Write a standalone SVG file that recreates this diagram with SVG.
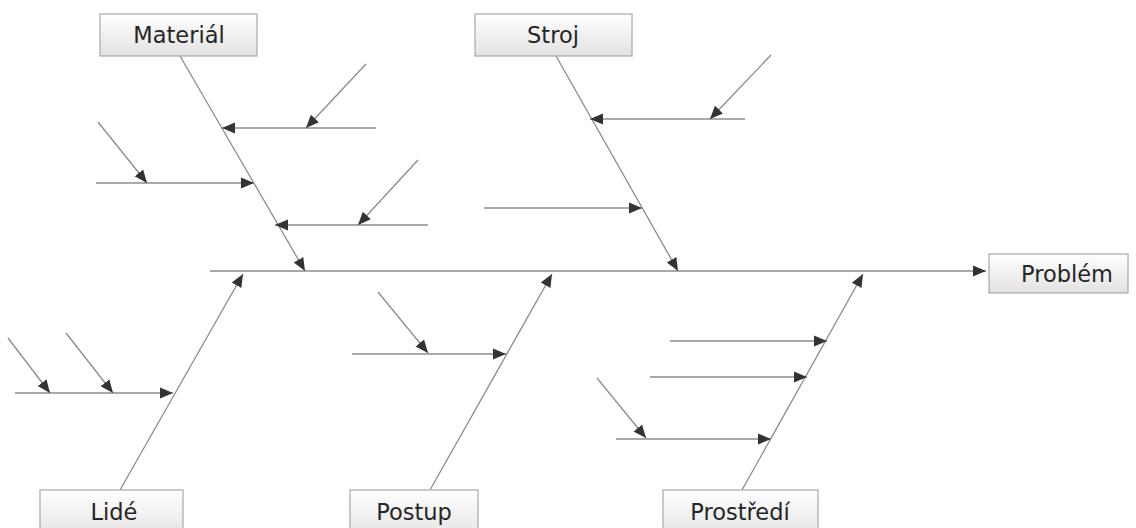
<svg xmlns="http://www.w3.org/2000/svg" width="1136" height="528" viewBox="0 0 1136 528">
<defs>
<linearGradient id="g" x1="0" y1="0" x2="0" y2="1">
<stop offset="0" stop-color="#ffffff"/>
<stop offset="1" stop-color="#e2e2e2"/>
</linearGradient>
<marker id="a" markerUnits="userSpaceOnUse" markerWidth="15" markerHeight="13" refX="13" refY="6.5" orient="auto">
<path d="M0,1 L13,6.5 L0,12 Z" fill="#333333"/>
</marker>
<style>
.box{fill:url(#g);stroke:#a8a8a8;stroke-width:1.2}
.t{font-family:"DejaVu Sans",Verdana,sans-serif;font-size:22.5px;fill:#262626;text-anchor:middle}
.c line{stroke:#8c8c8c;stroke-width:1.3;fill:none}
.c .ar{marker-end:url(#a)}
</style>
</defs>
<rect width="1136" height="528" fill="#ffffff"/>
<g class="c" id="connectors">
<line class="ar" x1="210" y1="271" x2="986" y2="271"/>
<line class="ar" x1="180" y1="56" x2="305" y2="271"/>
<line class="ar" x1="556" y1="56" x2="678" y2="271"/>
<line class="ar" x1="120" y1="490" x2="243" y2="274"/>
<line class="ar" x1="430" y1="490" x2="552" y2="274"/>
<line class="ar" x1="742" y1="490" x2="863" y2="274"/>
<line class="ar" x1="376" y1="128" x2="222" y2="128"/>
<line class="ar" x1="366" y1="64" x2="306" y2="128"/>
<line class="ar" x1="96" y1="183" x2="254" y2="183"/>
<line class="ar" x1="98" y1="122" x2="147" y2="183"/>
<line class="ar" x1="428" y1="225" x2="275" y2="225"/>
<line class="ar" x1="418" y1="160" x2="358" y2="225"/>
<line class="ar" x1="745" y1="119" x2="590" y2="119"/>
<line class="ar" x1="771" y1="55" x2="710" y2="119"/>
<line class="ar" x1="484" y1="208" x2="642" y2="208"/>
<line class="ar" x1="15" y1="393" x2="173" y2="393"/>
<line class="ar" x1="8" y1="338" x2="50" y2="393"/>
<line class="ar" x1="66" y1="333" x2="113" y2="393"/>
<line class="ar" x1="352" y1="354" x2="506" y2="354"/>
<line class="ar" x1="378" y1="292" x2="428" y2="353"/>
<line class="ar" x1="670" y1="341" x2="827" y2="341"/>
<line class="ar" x1="650" y1="377" x2="807" y2="377"/>
<line class="ar" x1="616" y1="439" x2="771" y2="439"/>
<line class="ar" x1="597" y1="378" x2="646" y2="438"/>
</g>
<g id="material"><rect class="box" x="100" y="14" width="157" height="42"/><text class="t" x="179" y="43">Materiál</text></g>
<g id="stroj"><rect class="box" x="475" y="14" width="157" height="42"/><text class="t" x="553" y="43">Stroj</text></g>
<g id="problem"><rect class="box" x="989" y="254" width="139" height="39"/><text class="t" x="1067" y="282">Problém</text></g>
<g id="lide"><rect class="box" x="40" y="490" width="143" height="50"/><text class="t" x="114" y="520">Lidé</text></g>
<g id="postup"><rect class="box" x="350" y="490" width="128" height="50"/><text class="t" x="414" y="520">Postup</text></g>
<g id="prostredi"><rect class="box" x="663" y="490" width="155" height="50"/><text class="t" x="740" y="520">Prostředí</text></g>
</svg>
